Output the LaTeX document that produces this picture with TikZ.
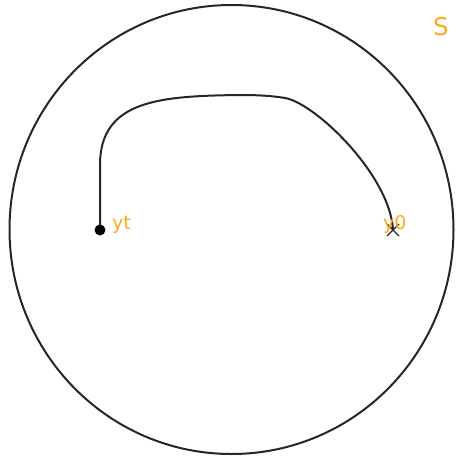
\documentclass[tikz,border=0pt]{standalone}
\usepackage{fontspec}
\usetikzlibrary{calc}
\setmainfont{DejaVu Sans}
\definecolor{lbl}{RGB}{255,170,30}
\tikzset{
  px/.style={x=1pt,y=-1pt},
  lab/.style={text=lbl,font=\fontsize{19}{22}\selectfont,inner sep=0pt,anchor=west},
  biglab/.style={lab,font=\fontsize{24.5}{28}\selectfont},
  curve/.style={draw=black!85,line width=2pt},
}
\begin{document}
\begin{tikzpicture}[px]
\useasboundingbox (0,0) rectangle (455,460);
\draw[curve] (231.5,229.5) ellipse [x radius=222,y radius=224.5];
\coordinate (yt) at (100,230);
\coordinate (y0) at (393,230);
\coordinate (a) at (100,165);
\coordinate (m) at (240,95);
\coordinate (n) at (285,98);
\draw[curve] (yt) -- (a) .. controls (100,100) and (160,96) .. (m) .. controls (255,95) and (270,95.5) .. (n) .. controls (315,103) and (390,175) .. (y0);
\fill[black] (yt) circle (5.5);
\draw[black!85,line width=1.4pt] ($(y0)+(-6,-6)$) -- ($(y0)+(6,6)$) ($(y0)+(-6,6)$) -- ($(y0)+(6,-6)$);
\node[lab] (ytl) at (112,225) {yt};
\node[lab] (y0l) at (383,224) {y0};
\node[biglab] (S) at (433,27) {S};
\end{tikzpicture}
\end{document}
